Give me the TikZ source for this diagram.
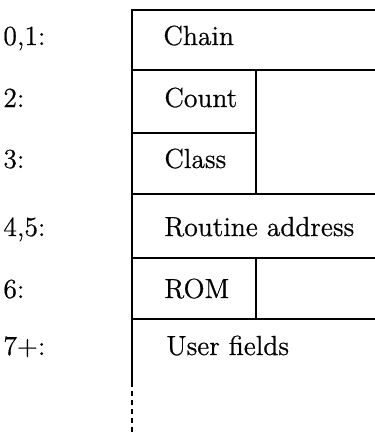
\documentclass[tikz,border=0pt]{standalone}
\usepackage{fontspec}
\setmainfont{Latin Modern Roman}[FakeBold=0.6]
\usepackage{tikz}

\begin{document}
\begin{tikzpicture}[x=0.5pt, y=-0.5pt, line width=1.4pt,
    every node/.style={anchor=base west, inner sep=0pt, font=\fontsize{13.8}{16}\selectfont}]
      \useasboundingbox (0, 0) rectangle (375, 436);
      % outer frame, open on the right and at the bottom
      \draw (375, 10) -- (132, 10) -- (132, 382);
      \draw[dash pattern=on 2.5pt off 2pt] (132, 382) -- (132, 436);
      \draw (132, 70) -- (375, 70);
      \draw (132, 133) -- (256, 133);
      \draw (132, 194) -- (375, 194);
      \draw (132, 258) -- (375, 258);
      \draw (132, 319) -- (375, 319);
      \draw (256, 70) -- (256, 194);
      \draw (256, 258) -- (256, 319);
      % offsets on the left
      \node (off01) at (2, 45) {0,1:};
      \node (off2) at (2, 107) {2:};
      \node (off3) at (2, 168) {3:};
      \node (off45) at (2, 236) {4,5:};
      \node (off6) at (2, 298) {6:};
      \node (off7) at (2, 355) {7+:};
      % field names
      \node (chain) at (162, 45) {Chain};
      \node (count) at (163, 107) {Count};
      \node (class) at (163, 168) {Class};
      \node (routine) at (163, 236) {Routine address};
      \node (rom) at (163, 298) {ROM};
      \node (user) at (165, 355) {User fields};
    \end{tikzpicture}
\end{document}
